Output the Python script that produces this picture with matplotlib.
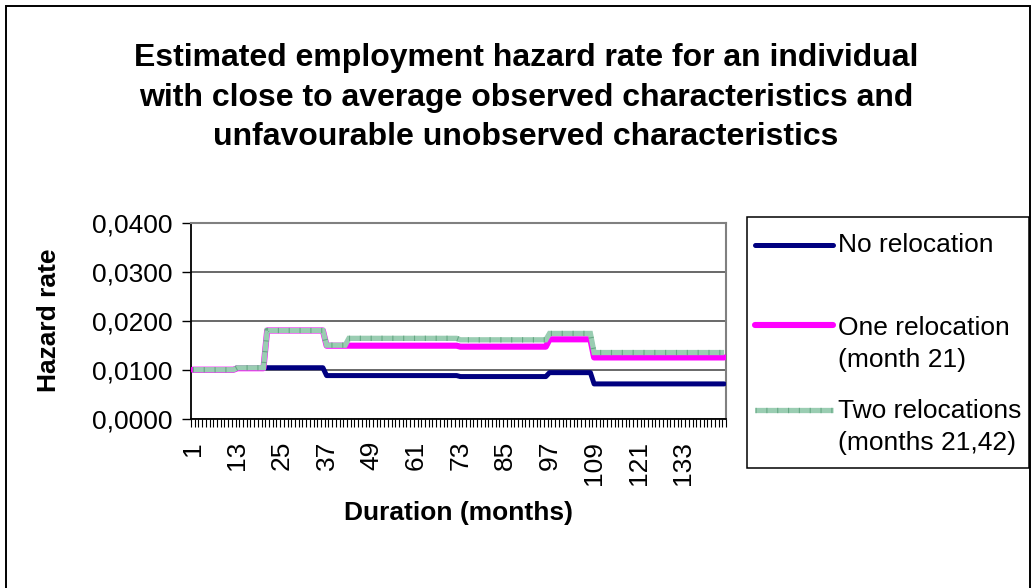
import matplotlib

matplotlib.use("Agg")

import matplotlib.pyplot as plt
import numpy as np
from matplotlib.lines import Line2D
from matplotlib.patches import Rectangle

plt.rcParams["font.family"] = ["Liberation Sans", "DejaVu Sans"]
plt.rcParams["lines.scale_dashes"] = False

W, H = 1032, 588

months = np.arange(1, 145)
# first month of each flat stretch
segment_starts = [1, 13, 21, 37, 43, 73, 97, 109]
no_relocation = [0.0100, 0.0104, 0.0104, 0.0088, 0.0088, 0.0086, 0.0094, 0.0071]
one_relocation = [0.0100, 0.0103, 0.0180, 0.0149, 0.0149, 0.0147, 0.0162, 0.0125]
two_relocations = [0.0100, 0.0104, 0.0180, 0.0150, 0.0164, 0.0161, 0.0174, 0.0135]

x_tick_months = [1, 13, 25, 37, 49, 61, 73, 85, 97, 109, 121, 133]
y_ticks = [0.0, 0.01, 0.02, 0.03, 0.04]

title_lines = [
    "Estimated employment hazard rate for an individual",
    "with close to average observed characteristics and",
    "unfavourable unobserved characteristics",
]
legend_labels = [
    "No relocation",
    "One relocation\n(month 21)",
    "Two relocations\n(months 21,42)",
]

NAVY = dict(color="#000080", lw=3.6, solid_capstyle="round", solid_joinstyle="round")
PINK = dict(color="#FF00FF", lw=4.4, solid_capstyle="round", solid_joinstyle="round")
GREEN = dict(color="#9ACDB2", lw=3.8, solid_capstyle="butt", solid_joinstyle="miter")
GREEN_TICKS = dict(color="#66A884", lw=3.8, dashes=(0.8, 7.0))


def fx(px: float) -> float:
    return px / W


def fy(py: float) -> float:
    return 1.0 - py / H


def expand(levels: list[float]) -> np.ndarray:
    lengths = np.diff(segment_starts + [months[-1] + 1])
    return np.repeat(levels, lengths)


fig = plt.figure(figsize=(W / 100, H / 100), dpi=100)
fig.patch.set_facecolor("white")

fig.add_artist(
    Rectangle((fx(6), -0.02), fx(1030) - fx(6), fy(6) + 0.02,
              transform=fig.transFigure, fill=False, ec="black", lw=1.4)
)

for text, y in zip(title_lines, [58, 98, 137]):
    fig.text(fx(526), fy(y), text, ha="center", va="center",
             fontsize=23, weight="bold")

ax = fig.add_axes([fx(191), fy(418.7), fx(726) - fx(191), (418.7 - 222.7) / H])

ax.plot(months, expand(no_relocation), **NAVY, zorder=3)
ax.plot(months, expand(one_relocation), **PINK, zorder=4)
ax.plot(months, expand(two_relocations), **GREEN, zorder=5)
ax.plot(months, expand(two_relocations), **GREEN_TICKS, zorder=6)

ax.set_xlim(0.5, 144.5)
ax.set_ylim(0, 0.04)
ax.set_yticks(y_ticks)
ax.set_yticklabels([f"{v:.4f}".replace(".", ",") for v in y_ticks])
ax.set_xticks(x_tick_months)
ax.set_xticklabels([str(m) for m in x_tick_months], rotation=90)
ax.set_xticks(np.arange(0.5, 145.0, 1.0), minor=True)

ax.tick_params(axis="y", direction="out", length=6.5, width=1.0,
               labelsize=19, pad=7)
ax.tick_params(axis="x", which="major", length=0, labelsize=19, pad=16)
ax.tick_params(axis="x", which="minor", direction="out", length=6.0, width=0.8)

ax.yaxis.grid(True, color="#404040", lw=1.1)
ax.set_axisbelow(True)
for side in ("left", "bottom"):
    ax.spines[side].set_color("black")
    ax.spines[side].set_linewidth(1.3)
for side in ("top", "right"):
    ax.spines[side].set_color("#808080")
    ax.spines[side].set_linewidth(1.5)

ax.set_ylabel("Hazard rate", fontsize=19, weight="bold")
ax.yaxis.set_label_coords((61 - 191) / 535, 0.5)
ax.set_xlabel("Duration (months)", fontsize=19, weight="bold")
ax.xaxis.set_label_coords(0.5, (418.7 - 501) / 196)

# legend box drawn by hand to match the spacing of the original
fig.add_artist(
    Rectangle((fx(747), fy(468)), fx(1029) - fx(747), (468 - 217) / H,
              transform=fig.transFigure, fill=False, ec="black", lw=1.1)
)
handle_styles = [[NAVY], [PINK], [GREEN, GREEN_TICKS]]
handle_y = [245, 325, 410]
text_y = [245, 344, 427]
for styles, hy, ty, label in zip(handle_styles, handle_y, text_y, legend_labels):
    for style in styles:
        fig.add_artist(Line2D([fx(755), fx(833)], [fy(hy), fy(hy)],
                              transform=fig.transFigure, **style))
    fig.text(fx(838), fy(ty), label, ha="left", va="center",
             fontsize=19, linespacing=1.38)

fig.savefig("out.png", dpi=100)
